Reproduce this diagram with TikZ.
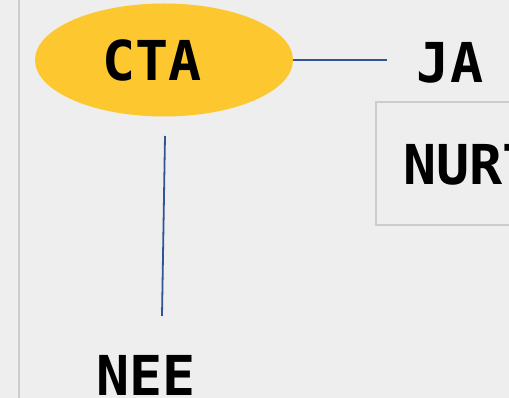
\documentclass[tikz,border=0pt]{standalone}
\usepackage{fontspec}
\setmonofont{DejaVu Sans Mono}
\usetikzlibrary{shapes.geometric}
\definecolor{bg}{HTML}{EEEEEE}
\definecolor{rule}{HTML}{CCCCCC}
\definecolor{gold}{HTML}{FDC82F}
\definecolor{link}{HTML}{2F5597}
\tikzset{
  x=1pt, y=-1pt,
  label/.style={font=\ttfamily\bfseries\fontsize{55}{55}\selectfont, text=black, inner sep=0pt},
  connector/.style={draw=link, line width=1.8pt},
  frame/.style={draw=rule, line width=2pt}
}
\begin{document}
\begin{tikzpicture}
  % canvas
  \fill[bg] (0,0) rectangle (509,398);
  \useasboundingbox (0,0) rectangle (509,398);
  \draw[rule, line width=2pt] (19,0) -- (19,398);
  % central ellipse
  \node[ellipse, fill=gold, minimum width=258pt, minimum height=113pt, inner sep=0pt] (cta) at (164,60) {};
  \node[label] at (152,60) {CTA};
  % right side
  \node[label, inner xsep=30pt] (ja) at (450,63) {JA};
  \draw[frame] (376,102) rectangle (520,225);
  \node[label, anchor=base west] (nurt) at (403,185) {NURT};
  % bottom
  \node[label, anchor=base] (nee) at (146,395) {NEE};
  % connectors
  \coordinate (vtop) at (165,136);
  \coordinate (vbot) at (162,316);
  \draw[connector] (cta.east) -- (cta.east -| ja.west);
  \draw[connector] (vtop) -- (vbot);
\end{tikzpicture}
\end{document}
